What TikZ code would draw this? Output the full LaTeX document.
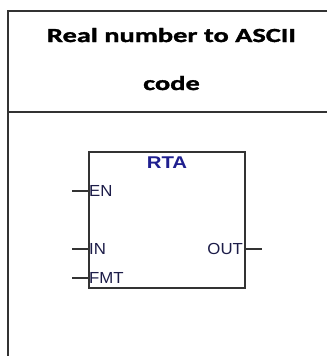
\documentclass[tikz,border=0pt]{standalone}
\usepackage{fontspec}
\newfontfamily\titlefont[FakeStretch=1.42, BoldFeatures={FakeBold=1.6}]{Carlito}
\newfontfamily\pinfont[FakeStretch=1.05]{Liberation Sans}
\newfontfamily\namefont[FakeStretch=1.2]{Liberation Sans}
\usetikzlibrary{positioning, calc}
\definecolor{frameGray}{HTML}{333333}
\definecolor{blockBlue}{HTML}{1F1F8F}
\definecolor{pinText}{HTML}{1C1C48}

\begin{document}
\begin{tikzpicture}[x=1pt, y=-1pt,
    frame/.style={draw=frameGray, line width=1.8pt},
    block/.style={draw=frameGray, line width=1.4pt, minimum width=156pt, minimum height=136pt, inner sep=0pt},
    title/.style={font=\titlefont\bfseries\fontsize{20}{20}\selectfont, anchor=base},
    pin/.style={font=\pinfont\fontsize{16}{16}\selectfont, text=pinText, inner sep=0.6pt, text height=11.5pt, text depth=0pt},
    stub/.style={draw=frameGray, line width=1.2pt}]
  \useasboundingbox (0,0) rectangle (327,356);

  % outer frame and header line
  \draw[frame] (327,11) -- (8,11) -- (8,356);
  \draw[frame] (8,112) -- (327,112);

  \node[title] (title1) at (171.5,42) {Real number to ASCII};
  \node[title] (title2) at (171.5,90) {code};

  % function block
  \node[block] (rta) at (167,220) {};
  \node[font=\namefont\bfseries\fontsize{17}{17}\selectfont, text=blockBlue, inner sep=0pt, text height=12pt, text depth=0pt, below=5pt of rta.north] (name) {RTA};

  \node[pin, anchor=west] (en) at ($(rta.west)+(0,-29)$) {EN};
  \node[pin, anchor=west] (in) at ($(rta.west)+(0,29)$) {IN};
  \node[pin, anchor=west] (fmt) at ($(rta.west)+(0,58)$) {FMT};
  \node[pin, anchor=east] (out) at ($(rta.east)+(-2,29)$) {OUT};

  \coordinate[left=16pt of en.west] (enL);
  \coordinate[left=16pt of in.west] (inL);
  \coordinate[left=16pt of fmt.west] (fmtL);
  \coordinate (outR) at ($(rta.east)+(16,29)$);
  \draw[stub] (enL) -- (en.west);
  \draw[stub] (inL) -- (in.west);
  \draw[stub] (fmtL) -- (fmt.west);
  \draw[stub] (rta.east |- out.east) -- (outR);
\end{tikzpicture}
\end{document}
